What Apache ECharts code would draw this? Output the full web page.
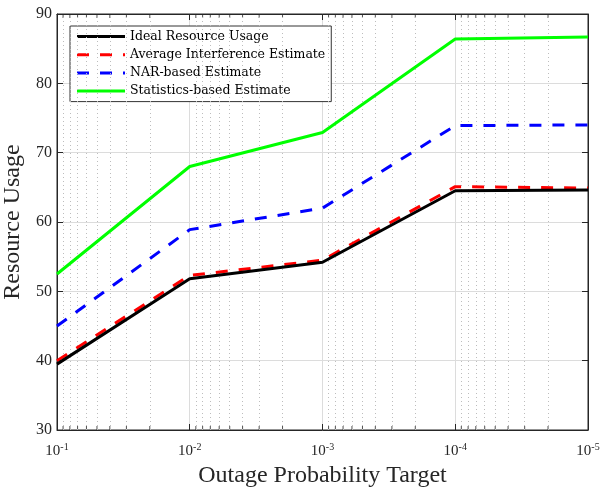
<!DOCTYPE html>
<html><head><meta charset="utf-8">
<script src="https://cdn.jsdelivr.net/npm/echarts@6/dist/echarts.min.js"></script>
<style>html,body{margin:0;padding:0;background:#fff}#c{width:602px;height:489px}</style>
</head><body><div id="c"></div>
<script>
var xValues = [1e-1, 1e-2, 1e-3, 1e-4, 1e-5];
var idealUsage = [39.5, 51.8, 54.2, 64.5, 64.6];
var avgInterference = [40.0, 52.3, 54.5, 65.1, 64.9];
var narBased = [45.0, 58.9, 62.0, 73.9, 74.0];
var statsBased = [52.5, 68.0, 72.9, 86.4, 86.7];
var seriesNames = ['Ideal Resource Usage', 'Average Interference Estimate', 'NAR-based Estimate', 'Statistics-based Estimate'];
var yTicks = [30, 40, 50, 60, 70, 80, 90];
var decades = [1e-2, 1e-3, 1e-4, 1e-5];
var minorMultipliers = [2, 3, 4, 5, 6, 7, 8, 9];

var minorValues = [];
decades.forEach(function (d) { minorMultipliers.forEach(function (m) { minorValues.push(d * m); }); });

function pairs(arr) { return arr.map(function (v, i) { return [xValues[i], v]; }); }
var FONT = 'Liberation Serif';
var LEGEND_FONT = 'DejaVu Serif';
var yMin = yTicks[0], yMax = yTicks[yTicks.length - 1];

var chart = echarts.init(document.getElementById('c'), null, {renderer: 'canvas'});
var lineDefs = [
  {data: idealUsage, color: '#000000', type: 'solid'},
  {data: avgInterference, color: '#ff0000', type: [12, 11]},
  {data: narBased, color: '#0000ff', type: [12, 11]},
  {data: statsBased, color: '#00ff00', type: 'solid'}
];
var series = lineDefs.map(function (d, i) {
  return {
    name: seriesNames[i], type: 'line', data: pairs(d.data), symbol: 'none', showSymbol: false,
    lineStyle: {color: d.color, width: 3, type: d.type}, itemStyle: {color: d.color},
    z: 10 - i, animation: false
  };
});
series.push({
  type: 'line', data: [[1e-1, yMin]], symbol: 'none', silent: true, animation: false, lineStyle: {opacity: 0}, z: 1,
  markLine: {
    silent: true, symbol: 'none', label: {show: false}, animation: false,
    lineStyle: {color: '#bdbdbd', width: 1, type: [1, 3]},
    data: minorValues.map(function (v) { return [{coord: [v, yMin]}, {coord: [v, yMax]}]; })
  }
});
series.push({
  type: 'scatter', data: minorValues.map(function (v) { return [v, yMin]; }), silent: true, animation: false,
  symbol: 'rect', symbolSize: [1, 4], symbolOffset: [0, -2], itemStyle: {color: '#262626'}
});
series.push({
  type: 'scatter', data: minorValues.map(function (v) { return [v, yMax]; }), silent: true, animation: false,
  symbol: 'rect', symbolSize: [1, 4], symbolOffset: [0, 2], itemStyle: {color: '#262626'}
});

chart.setOption({
  animation: false,
  backgroundColor: '#ffffff',
  grid: {left: 57, right: 14, top: 14, bottom: 59, show: true, borderColor: '#262626', borderWidth: 1,
         containLabel: false, outerBoundsMode: 'none'},
  legend: {
    data: seriesNames, orient: 'vertical', left: 70, top: 26,
    backgroundColor: '#ffffff', borderColor: '#333333', borderWidth: 1,
    padding: [4, 6, 4, 5.5], itemWidth: 48, itemHeight: 14, itemGap: 5.2,
    itemStyle: {opacity: 0},
    lineStyle: {width: 3},
    textStyle: {fontFamily: LEGEND_FONT, fontSize: 12.5, color: '#000'}
  },
  xAxis: [{
    type: 'log', logBase: 10, min: 1e-5, max: 1e-1, inverse: true,
    name: 'Outage Probability Target', nameLocation: 'middle', nameGap: 24,
    nameTextStyle: {fontFamily: FONT, fontSize: 24, color: '#262626'},
    axisLine: {show: true, lineStyle: {color: '#262626'}},
    axisTick: {show: true, inside: true, length: 6, lineStyle: {color: '#262626'}},
    axisLabel: {
      margin: 12, color: '#262626',
      formatter: function (v) { var e = Math.round(Math.log10(v)); return '{b|10}{s|' + e + '}'; },
      rich: {b: {fontFamily: FONT, fontSize: 15, color: '#262626'},
             s: {fontFamily: FONT, fontSize: 10, color: '#262626', verticalAlign: 'bottom', padding: [0, 0, 8, 0]}}
    },
    splitLine: {show: true, lineStyle: {color: '#dcdcdc', width: 1}}
  }, {
    type: 'log', logBase: 10, min: 1e-5, max: 1e-1, inverse: true, position: 'top',
    axisLine: {show: true, lineStyle: {color: '#262626'}},
    axisTick: {show: true, inside: true, length: 6, lineStyle: {color: '#262626'}},
    axisLabel: {show: false}, splitLine: {show: false}
  }],
  yAxis: [{
    type: 'value', min: yMin, max: yMax, interval: 10,
    name: 'Resource Usage', nameLocation: 'middle', nameGap: 27,
    nameTextStyle: {fontFamily: FONT, fontSize: 24, color: '#262626'},
    axisLine: {show: true, lineStyle: {color: '#262626'}},
    axisTick: {show: true, inside: true, length: 6, lineStyle: {color: '#262626'}},
    axisLabel: {fontFamily: FONT, fontSize: 16, color: '#262626', margin: 5},
    splitLine: {show: true, lineStyle: {color: '#dcdcdc', width: 1}}
  }, {
    type: 'value', min: yMin, max: yMax, interval: 10, position: 'right',
    axisLine: {show: true, lineStyle: {color: '#262626'}},
    axisTick: {show: true, inside: true, length: 6, lineStyle: {color: '#262626'}},
    axisLabel: {show: false}, splitLine: {show: false}
  }],
  series: series
});
</script></body></html>
